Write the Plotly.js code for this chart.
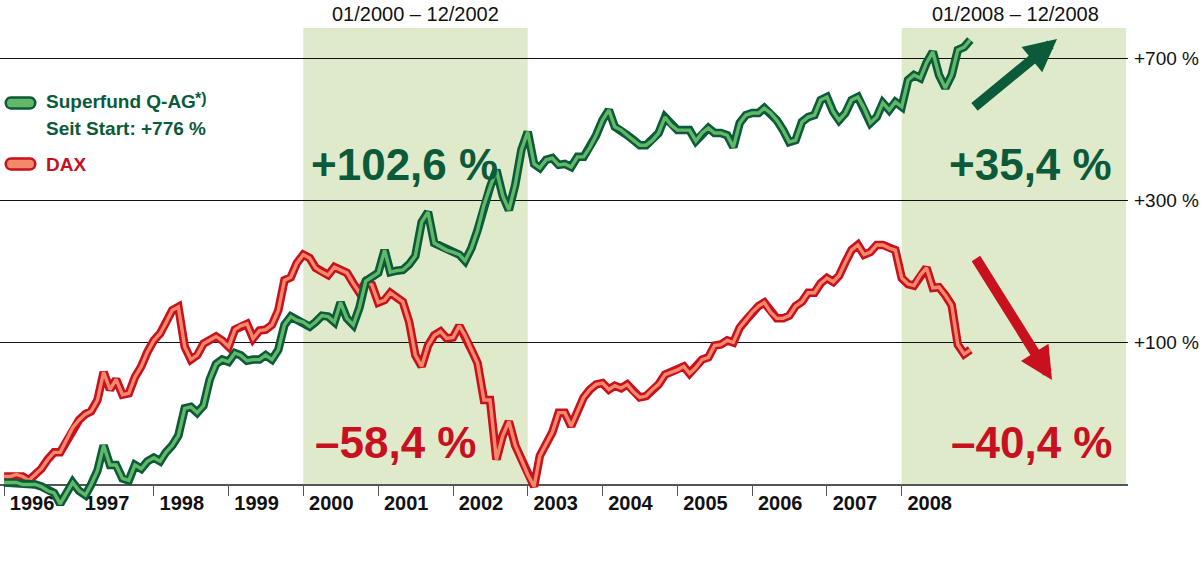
<!DOCTYPE html>
<html><head><meta charset="utf-8">
<script src="https://cdn.plot.ly/plotly-3.0.1.min.js"></script>
<style>html,body{margin:0;padding:0;background:#fff}#chart{width:1203px;height:578px}</style>
</head><body><div id="chart"></div>
<script>
// ---- data (percent change since start, monthly, Jan 1996 - Dec 2008) ----
const years = [1996,1997,1998,1999,2000,2001,2002,2003,2004,2005,2006,2007,2008];
const yearLabels = ['1996','1997','1998','1999','2000','2001','2002','2003','2004','2005','2006','2007','2008'];
const superfund = [
  1,1,1,0,0,0,-1,-3,-4,-9,-4,1,
  -3,-5,0,7,21,10,10,3,2,10,8,12,
  14,12,17,21,27,45,46,42,47,67,80,84,
  82,90,88,83,84,84,88,84,93,118,127,123,
  121,116,121,128,127,121,143,125,118,137,170,175,
  181,214,182,184,185,193,205,260,278,225,220,214,
  211,207,198,217,246,291,327,364,309,282,332,412,
  459,378,369,388,392,376,378,371,395,395,419,450,
  492,522,473,464,450,437,424,424,437,456,501,478,
  464,464,464,435,456,470,456,456,450,419,484,507,
  513,513,528,513,492,464,432,437,487,501,507,553,
  563,516,492,513,553,563,528,484,501,544,522,547,
  532,620,638,627,683,726,638,593,638,734,746,776
];
const dax = [
  4,4,5,4,2,5,8,13,17,17,24,32,
  37,41,43,51,73,59,67,55,56,69,78,91,
  102,109,120,134,138,96,84,88,99,102,106,102,
  96,113,117,119,104,112,113,118,134,171,175,195,
  207,202,188,182,178,189,185,181,167,155,169,165,
  143,146,155,149,144,121,88,78,97,107,111,104,
  105,117,107,93,81,51,51,13,27,36,21,13,
  5,-1,15,22,29,42,42,33,43,53,59,63,
  64,59,62,60,63,57,53,54,59,63,71,73,
  75,78,72,77,84,86,97,98,102,100,115,123,
  132,139,143,132,125,125,128,139,144,155,155,167,
  174,169,177,196,214,222,207,211,222,222,217,214,
  174,166,164,178,188,161,162,152,140,98,89,93
];
const yTickVals = [2,4,8];
const yTickText = ['+100 %','+300 %','+700 %'];
const periods = [['2000-01-01','2003-01-01','01/2000 – 12/2002'],['2008-01-01','2011-01-01','01/2008 – 12/2008']];

// ---- build ----
const months = [];
for (let i = 0; i < superfund.length; i++) {
  const y = years[0] + Math.floor(i / 12), m = i % 12 + 1;
  months.push(y + '-' + String(m).padStart(2, '0') + '-01');
}
const toIndex = p => 1 + p / 100;
const GD = '#0b5a3a', GL = '#62b866', RD = '#c8101e', RL = '#f3896b';
const bold = 'Liberation Sans, Arial, sans-serif';
const reg = 'Liberation Sans, Arial, sans-serif';

function line(vals, color, width) {
  return {x: months, y: vals.map(toIndex), type: 'scatter', mode: 'lines',
          line: {color: color, width: width, shape: 'linear'}, hoverinfo: 'skip'};
}
const traces = [line(dax, RD, 8.5), line(dax, RL, 3.4), line(superfund, GD, 8.5), line(superfund, GL, 3.4)];

const axisPos = 0.08585; // paper y of index 1 (0 %)
const shapes = periods.map(p => ({type: 'rect', xref: 'x', yref: 'paper', x0: p[0], x1: p[1],
  y0: axisPos, y1: 0.9472, fillcolor: '#dfeacb', line: {width: 0}, layer: 'below'}));
const pill = 'M11,-5.5 L30,-5.5 C37,-5.5 37,5.5 30,5.5 L11,5.5 C4,5.5 4,-5.5 11,-5.5 Z';
shapes.push({type: 'path', xref: 'paper', yref: 'paper', xsizemode: 'pixel', ysizemode: 'pixel',
  xanchor: 0, yanchor: 0.8057, path: pill, fillcolor: GL, line: {color: GD, width: 2.5}});
shapes.push({type: 'path', xref: 'paper', yref: 'paper', xsizemode: 'pixel', ysizemode: 'pixel',
  xanchor: 0, yanchor: 0.6906, path: pill, fillcolor: RL, line: {color: RD, width: 2.5}});

function txt(text, x, y, size, color, anchor) {
  return {text: text, xref: 'paper', yref: 'paper', x: x, y: y, xanchor: anchor || 'left', yanchor: 'middle',
    showarrow: false, font: {family: bold, size: size, color: color, weight: 'bold'}};
}
const annotations = [
  txt('Superfund Q-AG', 0.0390, 0.8085, 19, GD),
  txt('*)', 0.1715, 0.8150, 16, GD),
  txt('Seit Start: +776 %', 0.0390, 0.7575, 19, GD),
  txt('DAX', 0.0390, 0.6896, 19, RD),
  txt('+102,6 %', 0.2740, 0.6887, 44, GD),
  txt('–58,4 %', 0.2775, 0.1642, 44, RD),
  txt('+35,4 %', 0.9880, 0.6887, 44, GD, 'right'),
  txt('–40,4 %', 0.9880, 0.1642, 44, RD, 'right'),
  {text: periods[0][2], xref: 'x', yref: 'paper', x: '2001-07-02', y: 0.9736, xanchor: 'center', yanchor: 'middle',
   showarrow: false, font: {family: reg, size: 20, color: '#111'}},
  {text: periods[1][2], xref: 'paper', yref: 'paper', x: 0.9000, y: 0.9736, xanchor: 'center', yanchor: 'middle',
   showarrow: false, font: {family: reg, size: 20, color: '#111'}},
  {text: '', xref: 'paper', yref: 'paper', x: 0.93706, y: 0.92642, ax: -84, ay: 69, showarrow: true,
   arrowhead: 2, arrowsize: 0.65, arrowwidth: 10, arrowcolor: GD},
  {text: '', xref: 'paper', yref: 'paper', x: 0.93262, y: 0.28302, ax: -77, ay: -123, showarrow: true,
   arrowhead: 2, arrowsize: 0.65, arrowwidth: 10, arrowcolor: RD}
];

const layout = {
  width: 1203, height: 578, margin: {l: 0, r: 75, t: 0, b: 48},
  paper_bgcolor: '#fff', plot_bgcolor: 'rgba(0,0,0,0)', showlegend: false,
  xaxis: {type: 'date', range: ['1995-12-12', '2011-01-10'], anchor: 'free', position: axisPos,
    showgrid: false, zeroline: false, showline: true, linecolor: '#555', linewidth: 1.5,
    ticks: 'outside', ticklen: 10, tickwidth: 1, tickcolor: '#555',
    tickvals: years.map(y => y + '-01-01'), ticktext: yearLabels, ticklabelshift: 28, ticklabelstandoff: -10,
    tickfont: {family: reg, size: 20, color: '#111', weight: 'bold'}, layer: 'below traces'},
  yaxis: {type: 'log', range: [-0.09646, 1.0271], side: 'right', tickvals: yTickVals, ticktext: yTickText,
    showgrid: true, gridcolor: '#111', gridwidth: 1, zeroline: false, showline: false, ticks: '',
    ticklabelstandoff: 5, tickfont: {family: reg, size: 19, color: '#111'}},
  shapes: shapes, annotations: annotations
};
Plotly.newPlot('chart', traces, layout, {displayModeBar: false, staticPlot: true});
</script></body></html>
